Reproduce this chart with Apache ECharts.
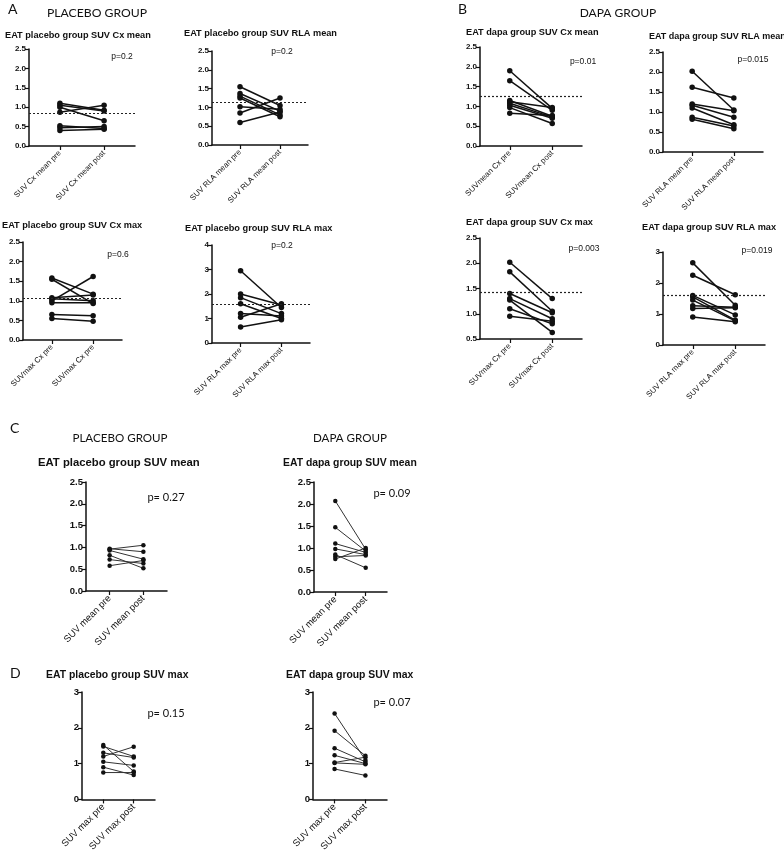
<!DOCTYPE html>
<html>
<head>
<meta charset="utf-8">
<script src="https://cdn.jsdelivr.net/npm/echarts@6/dist/echarts.min.js"></script>
<style>
  html, body { margin: 0; padding: 0; background: #fff; }
  #chart { width: 784px; height: 854px; }
</style>
</head>
<body>
<div id="chart"></div>
<script>
// ---- data (pre value [i] is paired with post value [i]) ----
var a1Pre = [1.10, 1.05, 1.00, 0.87, 0.52, 0.47, 0.40];
var a1Post = [0.92, 0.90, 0.65, 1.05, 0.45, 0.50, 0.43];
var a2Pre = [1.55, 1.37, 1.30, 1.25, 1.02, 0.85, 0.60];
var a2Post = [1.05, 0.90, 0.80, 0.75, 0.95, 1.25, 0.88];
var a3Pre = [1.58, 1.55, 1.08, 1.05, 1.00, 0.95, 0.65, 0.55];
var a3Post = [1.17, 0.93, 1.15, 1.00, 1.62, 0.95, 0.62, 0.48];
var a4Pre = [2.95, 2.00, 1.85, 1.60, 1.20, 1.05, 0.65];
var a4Post = [1.45, 1.55, 1.20, 1.00, 1.10, 1.60, 0.95];
var b1Pre = [1.90, 1.65, 1.15, 1.12, 1.08, 1.03, 0.97, 0.83];
var b1Post = [0.95, 0.90, 0.75, 0.97, 0.73, 0.70, 0.57, 0.77];
var b2Pre = [2.02, 1.62, 1.20, 1.17, 1.10, 0.87, 0.82];
var b2Post = [1.05, 1.35, 1.03, 0.87, 0.68, 0.65, 0.58];
var b3Pre = [2.02, 1.83, 1.40, 1.30, 1.27, 1.10, 0.95];
var b3Post = [1.30, 1.05, 1.02, 0.90, 0.63, 0.80, 0.85];
var b4Pre = [2.65, 2.25, 1.60, 1.55, 1.45, 1.27, 1.18, 0.90];
var b4Post = [1.28, 1.62, 0.97, 0.80, 0.78, 1.22, 1.20, 0.75];
var c1Pre = [0.97, 0.96, 0.93, 0.82, 0.72, 0.58];
var c1Post = [0.90, 1.05, 0.73, 0.52, 0.63, 0.70];
var c2Pre = [2.07, 1.47, 1.10, 0.98, 0.85, 0.80, 0.75];
var c2Post = [0.97, 0.93, 0.90, 0.85, 0.55, 0.83, 1.00];
var d1Pre = [1.52, 1.48, 1.30, 1.20, 1.05, 0.90, 0.75];
var d1Post = [0.78, 1.20, 1.17, 1.47, 0.95, 0.68, 0.75];
var d2Pre = [2.40, 1.92, 1.43, 1.23, 1.03, 1.02, 0.85];
var d2Post = [1.10, 1.22, 1.05, 1.00, 1.18, 0.98, 0.67];

// dotted reference lines (null = none drawn)
var meanLines = [0.85, 1.13, 1.06, 1.60, 1.25, null, 1.42, 1.60, null, null, null, null];

// x tick labels
var a1Labels = ['SUV Cx mean pre', 'SUV Cx mean post'];
var a2Labels = ['SUV RLA mean pre', 'SUV RLA mean post'];
var a3Labels = ['SUVmax Cx pre', 'SUVmax Cx pre'];
var a4Labels = ['SUV RLA max pre', 'SUV RLA max post'];
var b1Labels = ['SUVmean Cx pre', 'SUVmean Cx post'];
var b2Labels = ['SUV RLA mean pre', 'SUV RLA mean post'];
var b3Labels = ['SUVmax Cx pre', 'SUVmax Cx post'];
var b4Labels = ['SUV RLA max pre', 'SUV RLA max post'];
var c1Labels = ['SUV mean pre', 'SUV mean post'];
var c2Labels = ['SUV mean pre', 'SUV mean post'];
var d1Labels = ['SUV max pre', 'SUV max post'];
var d2Labels = ['SUV max pre', 'SUV max post'];

var chartTitles = [
    'EAT placebo group SUV Cx mean', 'EAT placebo group SUV RLA mean',
    'EAT placebo group SUV Cx max', 'EAT placebo group SUV RLA max',
    'EAT dapa group SUV Cx mean', 'EAT dapa group SUV RLA mean',
    'EAT dapa group SUV Cx max', 'EAT dapa group SUV RLA max',
    'EAT placebo group SUV mean', 'EAT dapa group SUV mean',
    'EAT placebo group SUV max', 'EAT dapa group SUV max'
];
var pValues = ['p=0.2', 'p=0.2', 'p=0.6', 'p=0.2', 'p=0.01', 'p=0.015', 'p=0.003', 'p=0.019',
    'p= 0.27', 'p= 0.09', 'p= 0.15', 'p= 0.07'];

// y axis ranges [min, max, step]
var yRanges = [
    [0, 2.5, 0.5], [0, 2.5, 0.5], [0, 2.5, 0.5], [0, 4, 1],
    [0, 2.5, 0.5], [0, 2.5, 0.5], [0.5, 2.5, 0.5], [0, 3, 1],
    [0, 2.5, 0.5], [0, 2.5, 0.5], [0, 3, 1], [0, 3, 1]
];

// ---- layout of the 12 small plots (grid: left, top, width, height; t: title pos; tf: title size) ----
var panels = [
    { pre: a1Pre, post: a1Post, labels: a1Labels, grid: [29, 49, 106, 97], t: [5, 35], tf: 9.2, p: [122, 57], big: false },
    { pre: a2Pre, post: a2Post, labels: a2Labels, grid: [212, 51, 96, 94], t: [184, 33], tf: 9.2, p: [282, 52], big: false },
    { pre: a3Pre, post: a3Post, labels: a3Labels, grid: [23, 242, 99, 98], t: [2, 225], tf: 9.2, p: [118, 255], big: false },
    { pre: a4Pre, post: a4Post, labels: a4Labels, grid: [212, 245, 98, 98], t: [185, 228], tf: 9.2, p: [282, 246], big: false },
    { pre: b1Pre, post: b1Post, labels: b1Labels, grid: [480, 47, 102, 99], t: [466, 32], tf: 9.2, p: [583, 62], big: false },
    { pre: b2Pre, post: b2Post, labels: b2Labels, grid: [663, 52, 100, 100], t: [649, 37], tf: 9.0, p: [753, 60], big: false },
    { pre: b3Pre, post: b3Post, labels: b3Labels, grid: [480, 238, 102, 101], t: [466, 222], tf: 9.2, p: [584, 249], big: false },
    { pre: b4Pre, post: b4Post, labels: b4Labels, grid: [663, 252, 102, 93], t: [642, 227], tf: 9.2, p: [757, 251], big: false },
    { pre: c1Pre, post: c1Post, labels: c1Labels, grid: [86, 482, 81, 109], t: [38, 463], tf: 11.3, p: [166, 497], big: true },
    { pre: c2Pre, post: c2Post, labels: c2Labels, grid: [314, 482, 73, 110], t: [283, 463], tf: 10.4, p: [392, 493], big: true },
    { pre: d1Pre, post: d1Post, labels: d1Labels, grid: [82, 692, 73, 110], t: [46, 675], tf: 10.4, p: [166, 713], big: true },
    { pre: d2Pre, post: d2Post, labels: d2Labels, grid: [313, 692, 74, 110], t: [286, 675], tf: 10.4, p: [392, 702], big: true }
];

var ARIAL = '"Liberation Sans", Arial, sans-serif';
var CALIBRI = 'Lato, "Open Sans", sans-serif';

function txt(text, x, y, font, align) {
    return {
        type: 'text', silent: true,
        style: {
            text: text, x: x, y: y, font: font, fill: '#111',
            align: align || 'left', textAlign: align || 'left',
            verticalAlign: 'middle', textVerticalAlign: 'middle'
        }
    };
}

var grids = [], xAxes = [], yAxes = [], series = [], graphics = [];

panels.forEach(function(pn, i) {
    var yr = yRanges[i];
    var axisFont = pn.big ? 9.5 : 8;
    grids.push({ left: pn.grid[0], top: pn.grid[1], width: pn.grid[2], height: pn.grid[3], containLabel: false });
    xAxes.push({
        type: 'value', gridIndex: i, min: -0.7, max: 1.7,
        axisLine: { show: true, onZero: false, lineStyle: { color: '#111', width: 1.5 } },
        axisTick: { show: true, customValues: [0, 1], length: 4, lineStyle: { color: '#111', width: 1.2 } },
        axisLabel: {
            customValues: [0, 1], rotate: 45, margin: 6,
            fontFamily: ARIAL, fontSize: pn.big ? 9.5 : 7.8, color: '#111',
            formatter: (function(lb) { return function(v) { return v < 0.5 ? lb[0] : lb[1]; }; })(pn.labels)
        },
        splitLine: { show: false }
    });
    yAxes.push({
        type: 'value', gridIndex: i, min: yr[0], max: yr[1], interval: yr[2],
        axisLine: { show: true, onZero: false, lineStyle: { color: '#111', width: 1.5 } },
        axisTick: { show: true, length: 4, lineStyle: { color: '#111', width: 1.2 } },
        axisLabel: {
            fontFamily: ARIAL, fontWeight: 'bold', fontSize: axisFont, color: '#111', margin: 3,
            formatter: function(v) { return yr[2] < 1 ? v.toFixed(1) : String(v); }
        },
        splitLine: { show: false }
    });
    for (var k = 0; k < pn.pre.length; k++) {
        var s = {
            type: 'line', xAxisIndex: i, yAxisIndex: i,
            data: [[0, pn.pre[k]], [1, pn.post[k]]],
            symbol: 'circle', symbolSize: pn.big ? 4.5 : 5.5,
            lineStyle: { color: pn.big ? '#333' : '#111', width: pn.big ? 1 : 1.5 },
            itemStyle: { color: '#111' },
            silent: true
        };
        if (k === 0 && meanLines[i] != null) {
            s.markLine = {
                symbol: 'none', silent: true, label: { show: false },
                lineStyle: { type: [2, 2], color: '#222', width: 1.2 },
                data: [{ yAxis: meanLines[i] }]
            };
        }
        series.push(s);
    }
    graphics.push(txt(chartTitles[i], pn.t[0], pn.t[1], 'bold ' + pn.tf + 'px ' + ARIAL));
    graphics.push(txt(pValues[i], pn.p[0], pn.p[1],
        pn.big ? '11px ' + CALIBRI : '8.5px ' + ARIAL, 'center'));
});

// panel letters and group headings
graphics.push(txt('A', 8, 9, '14px ' + CALIBRI));
graphics.push(txt('B', 458, 9, '14px ' + CALIBRI));
graphics.push(txt('C', 10, 428, '14px ' + CALIBRI));
graphics.push(txt('D', 10, 673, '14px ' + CALIBRI));
graphics.push(txt('PLACEBO GROUP', 97, 13, '12.2px ' + CALIBRI, 'center'));
graphics.push(txt('DAPA GROUP', 618, 13, '12px ' + CALIBRI, 'center'));
graphics.push(txt('PLACEBO GROUP', 120, 438, '11.6px ' + CALIBRI, 'center'));
graphics.push(txt('DAPA GROUP', 350, 438, '11.6px ' + CALIBRI, 'center'));

var chart = echarts.init(document.getElementById('chart'));
chart.setOption({
    animation: false,
    backgroundColor: '#fff',
    grid: grids,
    xAxis: xAxes,
    yAxis: yAxes,
    series: series,
    graphic: graphics
});
</script>
</body>
</html>
